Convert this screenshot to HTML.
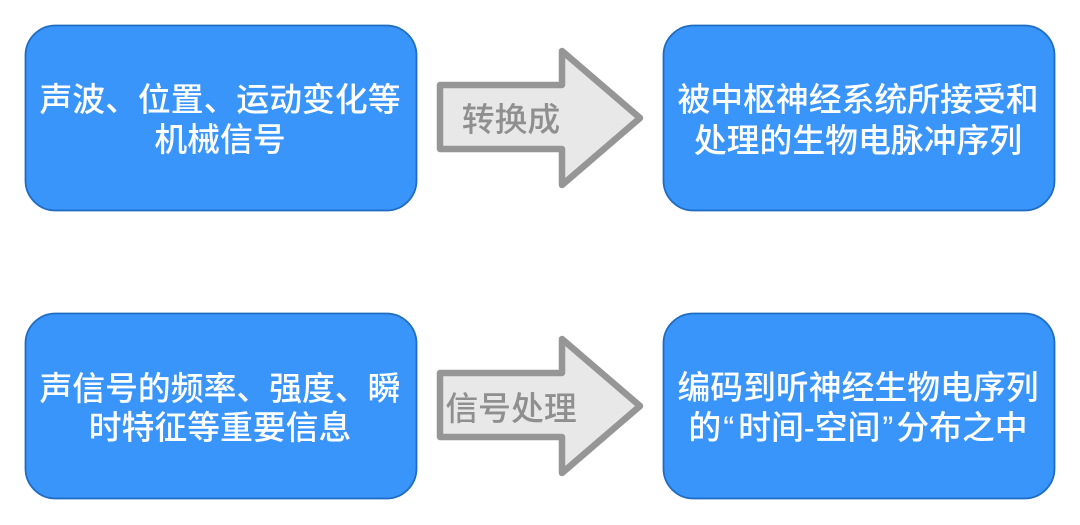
<!DOCTYPE html>
<html lang="zh">
<head>
<meta charset="utf-8">
<style>
html,body{margin:0;padding:0;background:#fff;width:1080px;height:525px;overflow:hidden}
svg{display:block}
text{font-family:"Liberation Sans","Noto Sans CJK SC",sans-serif;font-size:32.85px;text-anchor:middle;font-weight:500}
.w{fill:#fff}
.g{fill:#8f8f8f}
.b{fill:#3a95fb;stroke:#1f6cc0;stroke-width:1.8}
.a{fill:#e8e8e8;stroke:#969696;stroke-width:6.5;stroke-linejoin:round}
</style>
</head>
<body>
<svg width="1080" height="525" viewBox="0 0 1080 525" xmlns="http://www.w3.org/2000/svg">
<rect class="b" x="25.5" y="25.5" width="391" height="185" rx="30" ry="30"/>
<rect class="b" x="663.5" y="25.5" width="391" height="185" rx="30" ry="30"/>
<rect class="b" x="25.5" y="313.5" width="391" height="185" rx="30" ry="30"/>
<rect class="b" x="663.5" y="313.5" width="391" height="185" rx="30" ry="30"/>

<polygon class="a" points="440,85 562,85 562,51 640,118 562,185 562,149 440,149"/>
<polygon class="a" points="440,373 562,373 562,339 640,406 562,473 562,437 440,437"/>

<text class="w" x="220" y="111">声波、位置、运动变化等</text>
<text class="w" x="220" y="151">机械信号</text>
<text class="w" x="858" y="111">被中枢神经系统所接受和</text>
<text class="w" x="858" y="152">处理的生物电脉冲序列</text>
<text class="w" x="220" y="400">声信号的频率、强度、瞬</text>
<text class="w" x="220" y="439">时特征等重要信息</text>
<text class="w" x="858" y="399">编码到听神经生物电序列</text>
<text class="w" x="858" y="439">的<tspan dx="2" letter-spacing="4">“</tspan>时间-空间<tspan dx="2" letter-spacing="3">”</tspan>分布之中</text>

<text class="g" x="511" y="131">转换成</text>
<text class="g" x="511" y="420">信号处理</text>
</svg>
</body>
</html>
